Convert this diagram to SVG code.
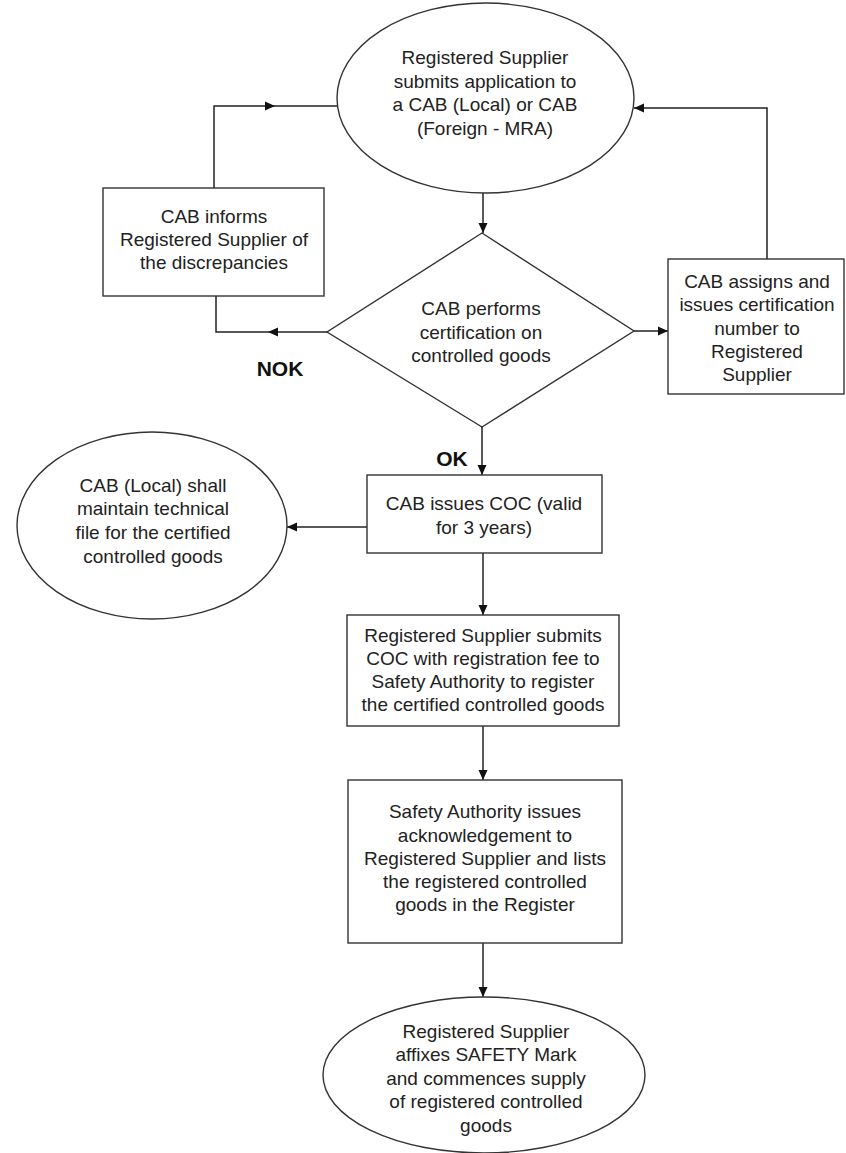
<svg xmlns="http://www.w3.org/2000/svg" width="846" height="1153" viewBox="0 0 846 1153">
<defs>
<style>
.shape{fill:#fff;stroke:#333;stroke-width:1.4}
.conn{fill:none;stroke:#222;stroke-width:1.5}
text{font-family:"Liberation Sans",Arial,sans-serif;font-size:19px;fill:#222;text-anchor:middle}
.lbl{font-weight:bold;font-size:21px;fill:#111}
</style>
<marker id="ah" viewBox="0 0 10 10" refX="10" refY="5" markerWidth="10" markerHeight="10" markerUnits="userSpaceOnUse" orient="auto">
<path d="M0,0.5 L10,5 L0,9.5 z" fill="#111"/>
</marker>
</defs>
<rect width="846" height="1153" fill="#fff"/>

<g id="connectors">
<path class="conn" d="M483,193 V233" marker-end="url(#ah)"/>
<path class="conn" d="M634,331 H668" marker-end="url(#ah)"/>
<path class="conn" d="M767,259 V108 H634" marker-end="url(#ah)"/>
<path class="conn" d="M327,332 H268" marker-end="url(#ah)"/>
<path class="conn" d="M268,332 H216 V296"/>
<path class="conn" d="M214,188 V106 H275" marker-end="url(#ah)"/>
<path class="conn" d="M275,106 H337"/>
<path class="conn" d="M482,427 V475" marker-end="url(#ah)"/>
<path class="conn" d="M367,527 H287" marker-end="url(#ah)"/>
<path class="conn" d="M483,553 V615" marker-end="url(#ah)"/>
<path class="conn" d="M483,726 V780" marker-end="url(#ah)"/>
<path class="conn" d="M483,943 V997" marker-end="url(#ah)"/>
</g>

<g id="n_submit_app">
<ellipse class="shape" cx="485.5" cy="98" rx="148.5" ry="95"/>
<text x="485" y="64">Registered Supplier</text>
<text x="485" y="87.5">submits application to</text>
<text x="485" y="111">a CAB (Local) or CAB</text>
<text x="485" y="134.5">(Foreign - MRA)</text>
</g>

<g id="n_informs">
<rect class="shape" x="103" y="188" width="221" height="108"/>
<text x="214" y="223">CAB informs</text>
<text x="214" y="246">Registered Supplier of</text>
<text x="214" y="269">the discrepancies</text>
</g>

<g id="n_decision">
<polygon class="shape" points="482,233 634,331 482,427 327,332"/>
<text x="481" y="315">CAB performs</text>
<text x="481" y="339">certification on</text>
<text x="481" y="362">controlled goods</text>
</g>

<g id="n_assigns">
<rect class="shape" x="668" y="259" width="176" height="135"/>
<text x="757" y="288">CAB assigns and</text>
<text x="757" y="311">issues certification</text>
<text x="757" y="335">number to</text>
<text x="757" y="358">Registered</text>
<text x="757" y="381">Supplier</text>
</g>

<g id="labels">
<text class="lbl" x="280" y="375.5">NOK</text>
<text class="lbl" x="452" y="465.5">OK</text>
</g>

<g id="n_coc">
<rect class="shape" x="367" y="475" width="235" height="78"/>
<text x="484" y="510">CAB issues COC (valid</text>
<text x="484" y="534">for 3 years)</text>
</g>

<g id="n_techfile">
<ellipse class="shape" cx="152" cy="525.5" rx="135" ry="93.5"/>
<text x="153" y="492">CAB (Local) shall</text>
<text x="153" y="515">maintain technical</text>
<text x="153" y="539">file for the certified</text>
<text x="153" y="563">controlled goods</text>
</g>

<g id="n_register">
<rect class="shape" x="347" y="615" width="272" height="111"/>
<text x="483" y="642">Registered Supplier submits</text>
<text x="483" y="665">COC with registration fee to</text>
<text x="483" y="688">Safety Authority to register</text>
<text x="483" y="711">the certified controlled goods</text>
</g>

<g id="n_ack">
<rect class="shape" x="348" y="780" width="274" height="163"/>
<text x="485" y="818">Safety Authority issues</text>
<text x="485" y="842">acknowledgement to</text>
<text x="485" y="865">Registered Supplier and lists</text>
<text x="485" y="888">the registered controlled</text>
<text x="485" y="911">goods in the Register</text>
</g>

<g id="n_mark">
<ellipse class="shape" cx="484" cy="1075" rx="161" ry="78"/>
<text x="486" y="1038">Registered Supplier</text>
<text x="486" y="1061">affixes SAFETY Mark</text>
<text x="486" y="1085">and commences supply</text>
<text x="486" y="1108">of registered controlled</text>
<text x="486" y="1132">goods</text>
</g>
</svg>
